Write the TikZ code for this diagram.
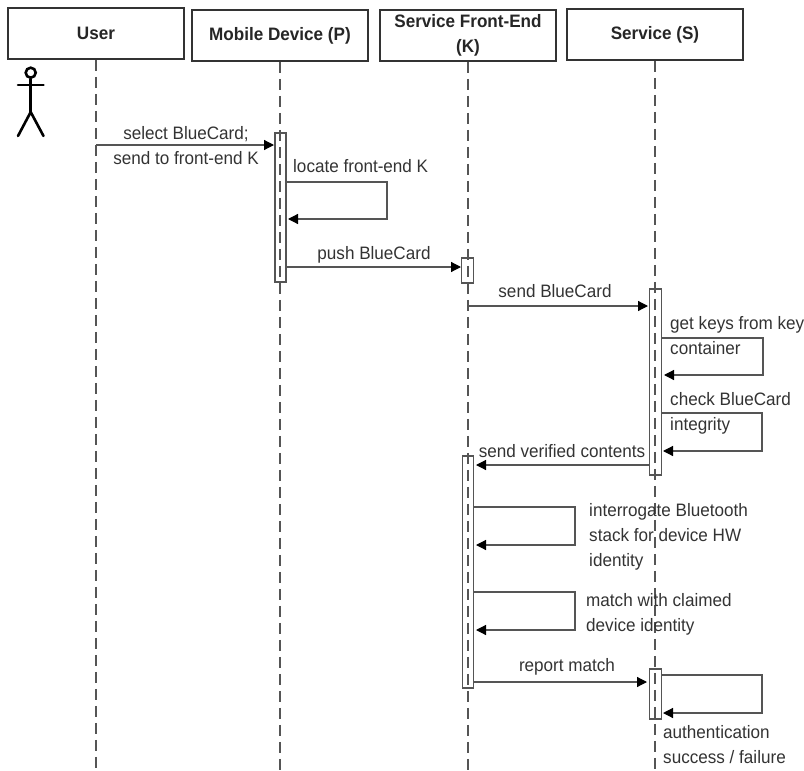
\documentclass[tikz,border=0pt]{standalone}
\usepackage{fontspec}
\setmainfont[FakeStretch=0.95]{Liberation Sans}
\usetikzlibrary{arrows.meta}
\definecolor{inkgray}{HTML}{333333}
\definecolor{linegray}{HTML}{555555}
\begin{document}
\begin{tikzpicture}[
        x=1pt, y=-1pt,
        headbox/.style={draw=inkgray, line width=1.8pt, fill=white, minimum width=176pt, minimum height=51pt, inner sep=0pt, align=center, text=black!85, font=\fontsize{18}{25}\selectfont\bfseries},
        activebar/.style={draw=linegray, line width=1.4pt, fill=white, minimum width=11pt, inner sep=0pt},
        lifeline/.style={draw=linegray, line width=1.3pt, dash pattern=on 11pt off 6pt},
        arrow/.style={draw=linegray, -{Stealth[length=10pt,width=10pt,inset=0pt,color=black]}, line width=1.2pt},
        msg/.style={inner sep=0pt, text=inkgray, align=center, font=\fontsize{18}{25}\selectfont},
        note/.style={msg, anchor=west, align=left},
        stick/.style={draw=black, line width=2.6pt, line cap=round}
    ]
    \useasboundingbox (0,0) rectangle (804,771);

    % ==========================================
    % HEADS
    % ==========================================
    \node[headbox] (user) at (96,33.5) {User};
    \node[headbox] (mobile) at (280,35.5) {Mobile Device (P)};
    \node[headbox] (frontend) at (468,35.5) {Service Front-End\\(K)};
    \node[headbox] (service) at (655,34.5) {Service (S)};

    % ==========================================
    % ACTIVATION BARS
    % ==========================================
    \node[activebar, minimum height=149pt] (mobilebar) at (280.5,207.5) {};
    \node[activebar, minimum width=12pt, minimum height=25pt] (frontbar) at (467.5,270.5) {};
    \node[activebar, minimum width=12pt, minimum height=186pt] (servicebar) at (655.5,382) {};
    \node[activebar, minimum width=11pt, minimum height=232pt] (frontlong) at (468,572) {};
    \node[activebar, minimum width=12pt, minimum height=50pt] (serviceend) at (655.5,694) {};

    % ==========================================
    % LIFELINES
    % ==========================================
    \coordinate (userfoot) at (96,771);
    \coordinate (mobilefoot) at (280,771);
    \coordinate (frontfoot) at (468,771);
    \coordinate (servicefoot) at (655,771);
    \draw[lifeline] (user.south) -- (userfoot);
    \draw[lifeline] (mobile.south) -- (mobilefoot);
    \draw[lifeline] (frontend.south) -- (frontfoot);
    \draw[lifeline] (service.south) -- (servicefoot);

    % ==========================================
    % ACTOR
    % ==========================================
    \node[circle, draw=black, line width=2.6pt, minimum size=10pt, inner sep=0pt] (head) at (30.7,72.7) {};
    \coordinate (armleft) at (18,85);
    \coordinate (armright) at (43.5,85);
    \coordinate (hip) at (30.7,112);
    \coordinate (footleft) at (18,136);
    \coordinate (footright) at (43.5,136);
    \draw[stick] (armleft) -- (armright);
    \draw[stick] (head) -- (hip);
    \draw[stick] (footleft) -- (hip) -- (footright);

    % ==========================================
    % MESSAGES
    % ==========================================
    \coordinate (selectstart) at (96,145);
    \coordinate (selectend) at (274,145);
    \draw[arrow] (selectstart) -- (selectend);
    \node[msg] (selectlabel) at (186,145.5) {select BlueCard;\\send to front-end K};

    % locate
    \coordinate (locatestart) at (286,182);
    \coordinate (locateend) at (288,219);
    \draw[arrow] (locatestart) -- ++(101,0) |- (locateend);
    \node[note] (locatelabel) at (293,166) {locate front-end K};

    % push
    \coordinate (pushstart) at (286,267);
    \coordinate (pushend) at (461,267);
    \draw[arrow] (pushstart) -- (pushend);
    \node[msg] (pushlabel) at (374,255) {push BlueCard};

    % send
    \coordinate (sendstart) at (468,306);
    \coordinate (sendend) at (648,306);
    \draw[arrow] (sendstart) -- (sendend);
    \node[msg] (sendlabel) at (555,291) {send BlueCard};

    % keys
    \coordinate (keysstart) at (662,338);
    \coordinate (keysend) at (664,375);
    \draw[arrow] (keysstart) -- ++(101,0) |- (keysend);
    \node[note] (keyslabel) at (670,335.5) {get keys from key\\container};

    % integrity
    \coordinate (checkstart) at (662,413);
    \coordinate (checkend) at (663,451);
    \draw[arrow] (checkstart) -- ++(100,0) |- (checkend);
    \node[note] (checklabel) at (670,413) {check BlueCard\\integrity};

    % verified
    \coordinate (verifiedstart) at (649,465);
    \coordinate (verifiedend) at (476,465);
    \draw[arrow] (verifiedstart) -- (verifiedend);
    \node[msg] (verifiedlabel) at (562,451) {send verified contents};

    % interrogate
    \coordinate (stackstart) at (474,507);
    \coordinate (stackend) at (476,545);
    \draw[arrow] (stackstart) -- ++(101,0) |- (stackend);
    \node[note] (stacklabel) at (589,537) {interrogate Bluetooth\\stack for device HW\\identity};

    % match
    \coordinate (matchstart) at (474,592);
    \coordinate (matchend) at (476,630);
    \draw[arrow] (matchstart) -- ++(101,0) |- (matchend);
    \node[note] (matchlabel) at (586,614.5) {match with claimed\\device identity};

    % report
    \coordinate (reportstart) at (474,682);
    \coordinate (reportend) at (647,682);
    \draw[arrow] (reportstart) -- (reportend);
    \node[msg] (reportlabel) at (567,667) {report match};

    % auth
    \coordinate (authstart) at (662,675);
    \coordinate (authend) at (663,713);
    \draw[arrow] (authstart) -- ++(100,0) |- (authend);
    \node[note] (authlabel) at (663,744.5) {authentication\\success / failure};

\end{tikzpicture}
\end{document}
